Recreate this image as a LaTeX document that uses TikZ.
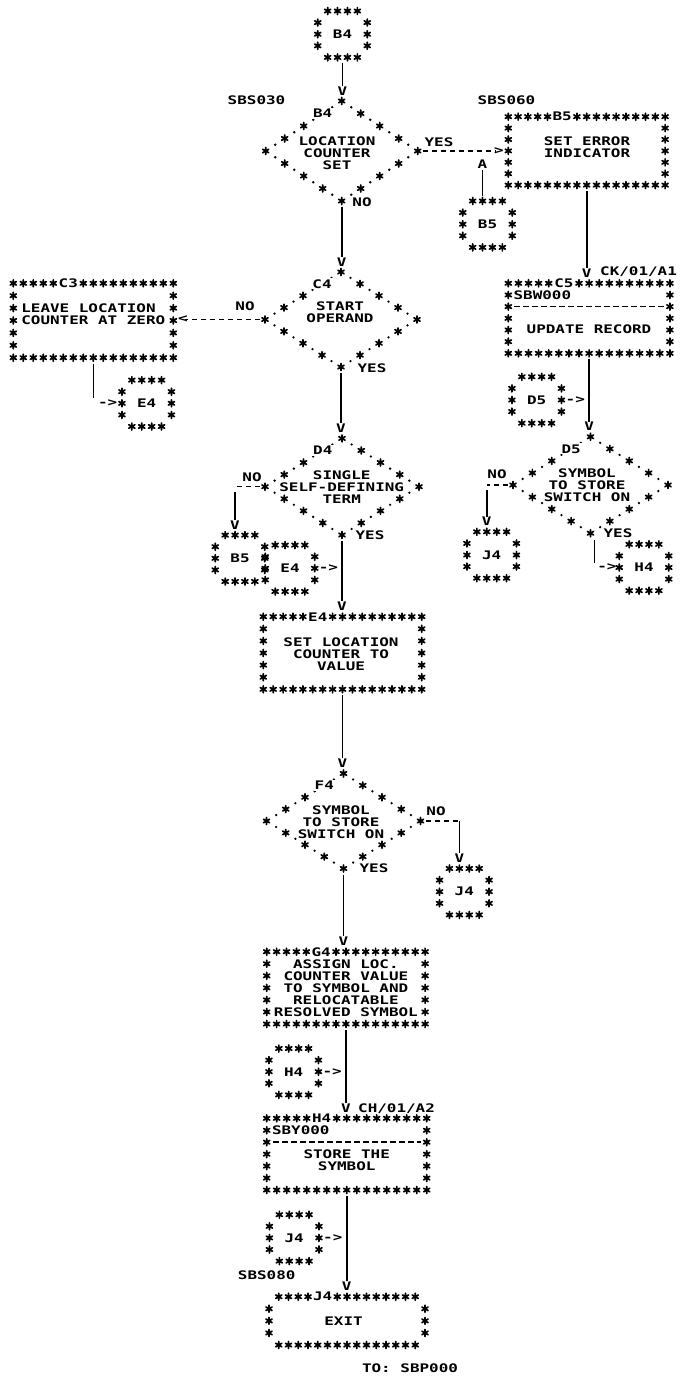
\documentclass[tikz,border=0pt]{standalone}
\usepackage{fontspec}
\newfontfamily\pf{DejaVu Sans Mono}[FakeStretch=1.35]
\usetikzlibrary{calc,shapes.geometric}
\tikzset{
  pics/ast/.style={code={\draw[line width=1.7pt,line cap=round] (0,-3.5)--(0,3.5) (-3.05,-1.75)--(3.05,1.75) (-3.05,1.75)--(3.05,-1.75);}},
  txt/.style={font={\pf\bfseries\fontsize{11.8}{11.9}\selectfont}, inner sep=0pt, align=center},
  lbl/.style={txt, fill=white, inner sep=1pt},
  wire/.style={line width=1.6pt},
  dline/.style={line width=1.5pt, dash pattern=on 5.5pt off 3.5pt},
  area/.style={inner sep=0pt, outer sep=0pt, draw=none, rectangle},
  dia/.style={shape=diamond, inner sep=0pt, outer sep=0pt, draw=none},
}
\def\cdx{9.9}\def\cdy{11.6}
% name, x0, y0, ncols, nrows, dx, dy, label
\newcommand{\starbox}[8]{%
  \pgfmathsetmacro\bxr{#2+(#4-1)*#6}%
  \pgfmathsetmacro\byb{#3+(#5-1)*#7}%
  \pgfmathtruncatemacro\bnc{#4-1}%
  \pgfmathtruncatemacro\bnr{#5-2}%
  \node[area, minimum width={(#4-1)*#6}, minimum height={(#5-1)*#7}] (#1) at ({(#2+\bxr)/2},{(#3+\byb)/2}) {};
  \foreach \i in {0,...,\bnc} {\pic at ({#2+\i*#6},#3) {ast}; \pic at ({#2+\i*#6},\byb) {ast};}
  \foreach \j in {1,...,\bnr} {\pic at (#2,{#3+\j*#7}) {ast}; \pic at (\bxr,{#3+\j*#7}) {ast};}
  \node[lbl] at ({#2+5.5*#6},#3) {#8};
}
\newcommand{\starterm}[8]{%
  \pgfmathsetmacro\bxr{#2+(#4-1)*#6}%
  \pgfmathsetmacro\byb{#3+(#5-1)*#7}%
  \pgfmathtruncatemacro\bnc{#4-2}%
  \pgfmathtruncatemacro\bnr{#5-2}%
  \node[area, minimum width={(#4-1)*#6}, minimum height={(#5-1)*#7}] (#1) at ({(#2+\bxr)/2},{(#3+\byb)/2}) {};
  \foreach \i in {1,...,\bnc} {\pic at ({#2+\i*#6},#3) {ast}; \pic at ({#2+\i*#6},\byb) {ast};}
  \foreach \j in {1,...,\bnr} {\pic at (#2,{#3+\j*#7}) {ast}; \pic at (\bxr,{#3+\j*#7}) {ast};}
  \node[lbl] at ({#2+5.5*#6},#3) {#8};
}
% name, cx, cy, label
\newcommand{\starconn}[4]{%
  \node[area, minimum width={5*\cdx}, minimum height={4*\cdy}] (#1) at (#2,#3) {};
  \foreach \i in {1,...,4} {\pic at ({#2+(\i-2.5)*\cdx},{#3-2*\cdy}) {ast}; \pic at ({#2+(\i-2.5)*\cdx},{#3+2*\cdy}) {ast};}
  \foreach \j in {-1,0,1} {\pic at ({#2-2.5*\cdx},{#3+\j*\cdy}) {ast}; \pic at ({#2+2.5*\cdx},{#3+\j*\cdy}) {ast};}
  \node[txt] at (#2,#3) {#4};
}
% name, cx, cy, a, b, label
\newcommand{\stardia}[6]{%
  \node[dia, minimum width={2*#4}, minimum height={2*#5}] (#1) at (#2,#3) {};
  \foreach \s in {0,0.25,0.5,0.75} {
    \pic at ($(#1.north)!\s!(#1.east)$) {ast};
    \pic at ($(#1.east)!\s!(#1.south)$) {ast};
    \pic at ($(#1.south)!\s!(#1.west)$) {ast};
    \pic at ($(#1.west)!\s!(#1.north)$) {ast};
  }
  \foreach \s in {0.125,0.375,0.625,0.875} {
    \fill ($(#1.north)!\s!(#1.east)$) circle[radius=1.3pt];
    \fill ($(#1.east)!\s!(#1.south)$) circle[radius=1.3pt];
    \fill ($(#1.south)!\s!(#1.west)$) circle[radius=1.3pt];
    \fill ($(#1.west)!\s!(#1.north)$) circle[radius=1.3pt];
  }
  \node[lbl] at ($(#1.north)!0.25!(#1.west)$) {#6};
}
\newcommand{\vcon}[3][0]{\draw[wire] ($(#2.south)+(#1,6)$) -- ($(#2.south |- #3.north)+(#1,-15.3)$) node[txt,anchor=north]{V};}
\begin{document}
\begin{tikzpicture}[x=1pt,y=-1pt]
\fill[white] (0,0) rectangle (688,1378);
\useasboundingbox (0,0) rectangle (688,1378);
% process boxes
\starbox{b5}{508.3}{116.7}{17}{7}{9.8}{11.4}{B5}
\starbox{c3}{13.3}{283.3}{17}{7}{10}{12.4}{C3}
\starbox{c5}{508.3}{283.3}{17}{7}{10.1}{11.67}{C5}
\starbox{e4}{263.3}{616.7}{17}{7}{9.9}{12.1}{E4}
\starbox{g4}{266.7}{951.7}{17}{7}{9.9}{12.05}{G4}
\starbox{h4}{266.7}{1118.3}{17}{7}{10}{11.95}{H4}
\starterm{j4}{269}{1296.7}{17}{5}{9.75}{12.08}{J4}
% decisions
\stardia{b4d}{341.7}{151}{76}{50}{B4}
\stardia{c4d}{341}{319.5}{76}{47.5}{C4}
\stardia{d4d}{342}{486.7}{77}{48.3}{D4}
\stardia{f4d}{343.5}{821}{77}{47.5}{F4}
\stardia{d5d}{590.5}{485}{77.5}{48.2}{D5}
% off-page / on-page connectors
\starconn{cb4}{342.5}{34.2}{B4}
\starconn{cb5a}{487.5}{224.2}{B5}
\starconn{ce4a}{146.7}{403.3}{E4}
\starconn{cd5}{536.7}{400}{D5}
\starconn{cj4a}{491.7}{555}{J4}
\starconn{ch4a}{644}{567.5}{H4}
\starconn{cb5b}{240}{558.3}{B5}
\starconn{ce4b}{290}{568.3}{E4}
\starconn{cj4b}{464.3}{891.7}{J4}
\starconn{ch4b}{293.7}{1071.7}{H4}
\starconn{cj4c}{294.2}{1237.9}{J4}
% box texts
\node[txt] (b5t) at (587,147.5) {SET ERROR\\INDICATOR};
\node[txt,align=left] (c3t) at (93.3,313.8) {LEAVE LOCATION\\COUNTER AT ZERO};
\node[txt,anchor=west] (c5id) at (513.4,295) {SBW000};
\draw[dline] (514,306.6) -- (664,306.6);
\node[txt] (c5t) at (589,329.3) {UPDATE RECORD};
\node[txt] (e4t) at (341,653.8) {SET LOCATION\\COUNTER TO\\VALUE};
\node[txt] (g4t) at (345.9,988) {ASSIGN LOC.\\COUNTER VALUE\\TO SYMBOL AND\\RELOCATABLE\\RESOLVED SYMBOL};
\node[txt,anchor=west] (h4id) at (271.8,1130.3) {SBY000};
\draw[dline] (273,1142.2) -- (421,1142.2);
\node[txt] (h4t) at (346.7,1160.1) {STORE THE\\SYMBOL};
\node[txt] (j4t) at (343.5,1320.9) {EXIT};
% decision texts
\node[txt] (b4dt) at (337,153) {LOCATION\\COUNTER\\SET};
\node[txt] (c4dt) at (340,312.5) {START\\OPERAND};
\node[txt] (d4dt) at (341.7,487.3) {SINGLE\\SELF-DEFINING\\TERM};
\node[txt] (f4dt) at (341,822.3) {SYMBOL\\TO STORE\\SWITCH ON};
\node[txt] (d5dt) at (587,485.5) {SYMBOL\\TO STORE\\SWITCH ON};
% main vertical connectors
\vcon{cb4}{b4d}
\vcon{b4d}{c4d}
\vcon{c4d}{d4d}
\vcon{d4d}{e4}
\vcon{e4}{f4d}
\vcon{f4d}{g4}
\vcon{g4}{h4}
\vcon{h4}{j4}
\vcon{b5}{c5}
\vcon{c5}{d5d}
% B4 yes -> B5
\draw[dline] ($(b4d.east)+(5,0)$) -- ($(b4d.east -| b5.west)+(-12,0)$);
\node[txt] (b4yt) at ($(b4d.east -| b5.west)+(-9.5,0)$) {>};
% B5 connector -> yes line
\coordinate (b5in) at ($(b4d.east -| cb5a.north)+(-5,0)$);
\draw[wire] ($(cb5a.north)+(-5,-5)$) -- ($(b5in)+(0,18.5)$) node[txt,anchor=south]{A};
% C4 no -> C3
\draw[dline] ($(c4d.west)+(-5,0)$) -- ($(c4d.west -| c3.east)+(12,0)$);
\node[txt] (c4nt) at ($(c4d.west -| c3.east)+(9.5,0)$) {<};
% C3 -> E4 connector
\coordinate (c3turn) at (c3.south |- ce4a.west);
\draw[wire] ($(c3.south)+(0,6)$) -- ($(c3turn)+(0,-5)$);
\path (c3turn) -- (ce4a.west) node[txt,midway]{->};
% D4 no -> B5 connector
\coordinate (d4no) at ($(d4d.west -| cb5b.north)+(-5,0)$);
\draw[dline] ($(d4d.west)+(-5,0)$) -- (d4no);
\draw[wire] ($(d4no)+(0,5)$) -- ($(cb5b.north)+(-5,-15.3)$) node[txt,anchor=north]{V};
% E4 connector -> main line
\coordinate (m1) at (d4d.south |- ce4b.east);
\path (ce4b.east) -- (m1) node[txt,midway]{->};
% D5 connector -> line C5-D5
\coordinate (m2) at (c5.south |- cd5.east);
\path (cd5.east) -- (m2) node[txt,midway]{->};
% D5 no -> J4 connector
\coordinate (d5no) at ($(d5d.west -| cj4a.north)+(-5,0)$);
\draw[dline] ($(d5d.west)+(-5,0)$) -- (d5no);
\draw[wire] ($(d5no)+(0,5)$) -- ($(cj4a.north)+(-5,-15.3)$) node[txt,anchor=north]{V};
% D5 yes -> H4 connector
\coordinate (d5yes) at ($(d5d.south |- ch4a.west)+(4,0)$);
\draw[wire] ($(d5d.south)+(4,7)$) -- ($(d5yes)+(0,-5)$);
\path (d5yes) -- (ch4a.west) node[txt,midway]{->};
% F4 no -> J4 connector
\coordinate (f4no) at ($(f4d.east -| cj4b.north)+(-5,0)$);
\draw[dline] ($(f4d.east)+(5,0)$) -- (f4no);
\draw[wire] (f4no) -- ($(cj4b.north)+(-5,-15.3)$) node[txt,anchor=north]{V};
% H4 connector -> line G4-H4
\coordinate (m3) at (g4.south |- ch4b.east);
\path (ch4b.east) -- (m3) node[txt,midway]{->};
% J4 connector -> line H4-J4
\coordinate (m4) at (h4.south |- cj4c.east);
\path (cj4c.east) -- (m4) node[txt,midway]{->};
% branch labels
\node[txt] at (439,142) {YES};
\node[txt] at (362,202) {NO};
\node[txt] at (245,306.7) {NO};
\node[txt] at (372,368) {YES};
\node[txt] at (252,476.7) {NO};
\node[txt] at (370,535) {YES};
\node[txt] at (436,811) {NO};
\node[txt] at (374,868.3) {YES};
\node[txt] at (497,474.5) {NO};
\node[txt] at (618,533) {YES};
% identifiers and references
\node[txt] at (256.5,100) {SBS030};
\node[txt] at (506.5,100) {SBS060};
\node[txt] at (266.7,1275) {SBS080};
\node[txt,anchor=west] at (600,271.7) {CK/01/A1};
\node[txt,anchor=west] at (358,1108.3) {CH/01/A2};
\node[txt] at (410,1368) {TO: SBP000};
\end{tikzpicture}
\end{document}
